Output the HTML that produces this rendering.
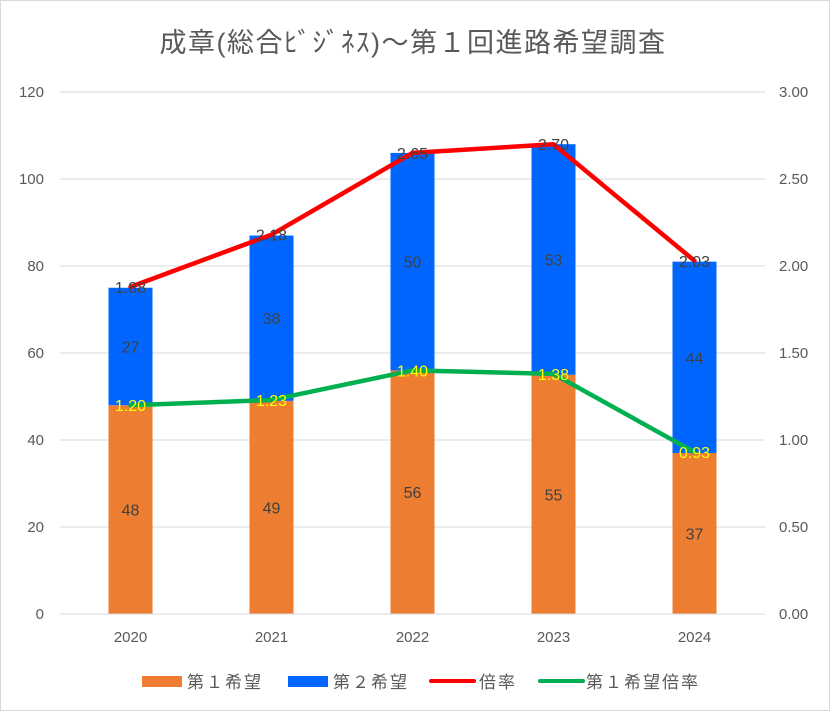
<!DOCTYPE html>
<html><head><meta charset="utf-8"><style>
body{margin:0;background:#fff}
svg{display:block;font-family:"Liberation Sans","Noto Sans CJK JP",sans-serif}
</style></head><body>
<svg id="chart" width="830" height="711">
<rect x="0.5" y="0.5" width="829" height="710" fill="#fff" stroke="#D9D9D9"/>
<text x="413" y="52" text-anchor="middle" font-size="27" letter-spacing="1.5" fill="#595959">成章(総合ﾋﾞｼﾞﾈｽ)～第１回進路希望調査</text>
<g id="grid"></g><g id="bars"></g><g id="lines"></g><g id="labels"></g><g id="axes"></g>
<g font-size="17" fill="#595959" letter-spacing="2">
<rect x="142" y="676" width="40" height="11" fill="#ED7D31"/>
<text x="187" y="688">第１希望</text>
<rect x="288" y="676" width="40" height="11" fill="#0066FF"/>
<text x="333" y="688">第２希望</text>
<line x1="431" y1="681" x2="474" y2="681" stroke="#FF0000" stroke-width="4" stroke-linecap="round"/>
<text x="479" y="688">倍率</text>
<line x1="540" y1="681" x2="583" y2="681" stroke="#00B050" stroke-width="4" stroke-linecap="round"/>
<text x="586" y="688">第１希望倍率</text>
</g>
</svg>
<script>
const categories=["2020","2021","2022","2023","2024"];
const firstChoice=[48,49,56,55,37];
const secondChoice=[27,38,50,53,44];
const ratio=[1.88,2.18,2.65,2.70,2.03];
const firstRatio=[1.20,1.23,1.40,1.38,0.93];
const leftTicks=[0,20,40,60,80,100,120];
const rightTicks=["0.00","0.50","1.00","1.50","2.00","2.50","3.00"];
const NS="http://www.w3.org/2000/svg";
const X0=60,X1=765,Y0=614,YT=92;
const yL=v=>Y0-(v/120)*(Y0-YT);
const yR=v=>Y0-(v/3)*(Y0-YT);
const band=(X1-X0)/categories.length;
const xC=i=>X0+band*(i+0.5);
const BW=44;
function mk(tag,attrs,parent,text){const e=document.createElementNS(NS,tag);for(const k in attrs)e.setAttribute(k,attrs[k]);if(text!==undefined)e.textContent=text;document.getElementById(parent).appendChild(e);return e;}
leftTicks.forEach((t,i)=>{
 const y=yL(t);
 if(t>0){const g=mk("line",{x1:X0,x2:X1,y1:y,y2:y,stroke:"#D9D9D9","stroke-width":1},"grid");
 
 }
 const a=mk("text",{x:44,y:y+5,"text-anchor":"end","font-size":15,fill:"#595959"},"axes",t);
 
 
 const b=mk("text",{x:779,y:y+5,"text-anchor":"start","font-size":15,fill:"#595959"},"axes",rightTicks[i]);
 
 
});
const ax=mk("line",{x1:X0,x2:X1,y1:Y0,y2:Y0,stroke:"#D9D9D9","stroke-width":1},"axes");


categories.forEach((c,i)=>{
 const t=mk("text",{x:xC(i),y:642,"text-anchor":"middle","font-size":15,fill:"#595959"},"axes",c);
 
 
 const x=xC(i)-BW/2;
 const r1=mk("rect",{x:x,y:yL(firstChoice[i]),width:BW,height:Y0-yL(firstChoice[i]),fill:"#ED7D31"},"bars");
 
 
 const top=firstChoice[i]+secondChoice[i];
 const r2=mk("rect",{x:x,y:yL(top),width:BW,height:yL(firstChoice[i])-yL(top),fill:"#0066FF"},"bars");
 
 
 const l1=mk("text",{x:xC(i),y:(yL(firstChoice[i])+Y0)/2+6,"text-anchor":"middle","font-size":16,fill:"#404040"},"labels",firstChoice[i]);
 
 
 const l2=mk("text",{x:xC(i),y:(yL(firstChoice[i])+yL(top))/2+6,"text-anchor":"middle","font-size":16,fill:"#404040"},"labels",secondChoice[i]);
 
 
 const l3=mk("text",{x:xC(i),y:yR(ratio[i])+6,"text-anchor":"middle","font-size":16,fill:"#404040"},"labels",ratio[i].toFixed(2));
 
 
 const l4=mk("text",{x:xC(i),y:yR(firstRatio[i])+6,"text-anchor":"middle","font-size":16,fill:"#FFFF00"},"labels",firstRatio[i].toFixed(2));
 
 
});
const pr=mk("polyline",{points:ratio.map((v,i)=>xC(i)+","+yR(v)).join(" "),fill:"none",stroke:"#FF0000","stroke-width":4.5,"stroke-linejoin":"round","stroke-linecap":"round"},"lines");


const pg=mk("polyline",{points:firstRatio.map((v,i)=>xC(i)+","+yR(v)).join(" "),fill:"none",stroke:"#00B050","stroke-width":4.5,"stroke-linejoin":"round","stroke-linecap":"round"},"lines");


</script>
</body></html>
